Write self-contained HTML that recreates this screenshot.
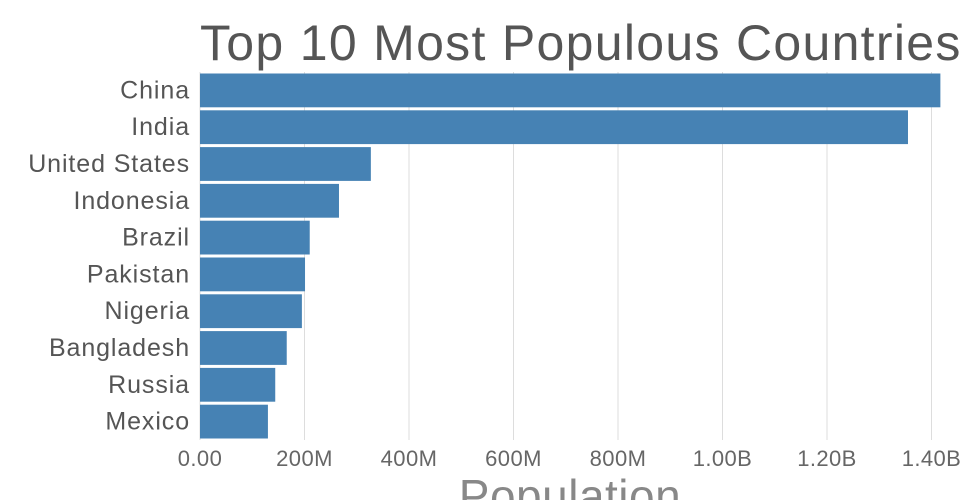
<!DOCTYPE html>
<html><head><meta charset="utf-8"><style>
html,body{margin:0;padding:0;background:#fff;width:960px;height:500px;overflow:hidden}
svg{display:block;font-family:"Liberation Sans","DejaVu Sans",sans-serif}
</style></head><body>
<svg id="chart" width="960" height="500">
<text x="200" y="60" font-size="50" fill="#555" letter-spacing="1.3">Top 10 Most Populous Countries</text>
<g id="grid"></g><g id="bars"></g><g id="ylabels"></g><g id="xticks"></g>
<text x="570" y="512" font-size="46" fill="#888" text-anchor="middle" letter-spacing="0.5">Population</text>
</svg>
<script>
const countries=["China","India","United States","Indonesia","Brazil","Pakistan","Nigeria","Bangladesh","Russia","Mexico"];
const populations=[1417e6,1355e6,327e6,266e6,210e6,201e6,195e6,166e6,144e6,130e6];
const tickValues=[0,200e6,400e6,600e6,800e6,1000e6,1200e6,1400e6];
const tickLabels=["0.00","200M","400M","600M","800M","1.00B","1.20B","1.40B"];
const NS="http://www.w3.org/2000/svg";
const x0=200,pxPerUnit=522.5/1e9,plotTop=72,plotBottom=440;
const step=(plotBottom-plotTop)/countries.length;
const xs=v=>x0+v*pxPerUnit;
const ys=i=>plotTop+i*step;
function mk(tag,attrs,parent){const e=document.createElementNS(NS,tag);for(const k in attrs)e.setAttribute(k,attrs[k]);document.getElementById(parent).appendChild(e);return e;}
tickValues.forEach((v,i)=>{
  const l=mk("line",{x1:xs(v),x2:xs(v),y1:plotTop,y2:plotBottom,stroke:"#ddd","stroke-width":1},"grid");
  
  
  const t=mk("text",{x:xs(v),y:466,"font-size":22,fill:"#666","text-anchor":"middle","letter-spacing":0.4},"xticks");
  t.textContent=tickLabels[i];
  
  
});
countries.forEach((c,i)=>{
  const r=mk("rect",{x:x0,y:ys(i)+1.5,width:xs(populations[i])-x0,height:step-3,fill:"#4682b4"},"bars");
  
  
  const t=mk("text",{x:190,y:ys(i)+step/2+8,"font-size":25,fill:"#555","text-anchor":"end","letter-spacing":0.9},"ylabels");
  t.textContent=c;
  
  
});
</script>
</body></html>
